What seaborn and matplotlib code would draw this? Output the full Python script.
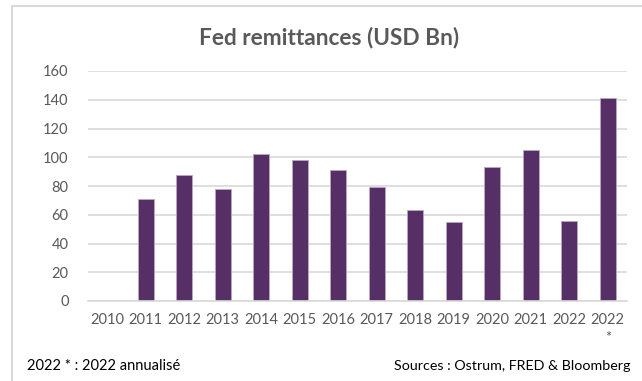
import numpy as np
import pandas as pd
import matplotlib
matplotlib.use("Agg")
import matplotlib.pyplot as plt
import seaborn as sns
from matplotlib.patches import Rectangle

categories = ["2010", "2011", "2012", "2013", "2014", "2015", "2016", "2017",
              "2018", "2019", "2020", "2021", "2022", "2022 *"]
tick_labels = ["2010", "2011", "2012", "2013", "2014", "2015", "2016", "2017",
               "2018", "2019", "2020", "2021", "2022", "2022\n*"]
values = [np.nan, 71, 88, 78, 102, 98, 91, 79, 63, 55, 93, 105, 56, 141]

sns.set_theme(style="white")
plt.rcParams["font.family"] = ["Lato", "DejaVu Sans"]

df = pd.DataFrame({"year": categories, "value": values})

fig = plt.figure(figsize=(6.42, 3.81), dpi=100)
W, H = 642, 381
ax = fig.add_axes([88 / W, 1 - 301 / H, (627 - 88) / W, (301 - 71) / H])

sns.barplot(data=df, x="year", y="value", order=categories, color="#552f66",
            width=0.42, ax=ax, edgecolor="#b9a7c4", linewidth=0.6,
            saturation=1)

ax.set_ylim(0, 160)
ax.set_xlim(-0.5, len(categories) - 0.5)
ax.set_yticks(np.arange(0, 161, 20))
ax.yaxis.grid(True, color="#d9d9d9", linewidth=1.2)
ax.set_axisbelow(True)
ax.set_xlabel("")
ax.set_ylabel("")
ax.set_xticks(range(len(categories)))
ax.set_xticklabels(tick_labels, linespacing=1.3)
ax.set_xticks(np.arange(-0.5, len(categories), 1), minor=True)
ax.tick_params(axis="x", which="major", length=0, pad=9, labelsize=10.5,
               labelcolor="#595959")
ax.tick_params(axis="x", which="minor", length=5, width=1, color="#d9d9d9",
               direction="out")
ax.tick_params(axis="y", length=0, pad=14, labelsize=10.5, labelcolor="#595959")
for lbl in ax.get_xticklabels():
    lbl.set_verticalalignment("top")
for s in ["top", "right", "left"]:
    ax.spines[s].set_visible(False)
ax.spines["bottom"].set_color("#d9d9d9")
ax.spines["bottom"].set_linewidth(1.2)

# outer frame
fig.patches.append(Rectangle((12 / W, -0.1), 1.2, 1 - 6 / H + 0.1,
                             transform=fig.transFigure, fill=False,
                             edgecolor="#d9d9d9", linewidth=1.5))

fig.text(329 / W, 1 - 37 / H, "Fed remittances (USD Bn)", ha="center",
         va="center", fontsize=16.3, fontweight="bold", color="#595959")
fig.text(27 / W, 1 - 366 / H, "2022 * : 2022 annualisé", ha="left",
         va="center", fontsize=10.5, color="#000000")
fig.text(631 / W, 1 - 366 / H, "Sources : Ostrum, FRED & Bloomberg",
         ha="right", va="center", fontsize=10.3, color="#000000")

fig.savefig("out.png", dpi=100)
